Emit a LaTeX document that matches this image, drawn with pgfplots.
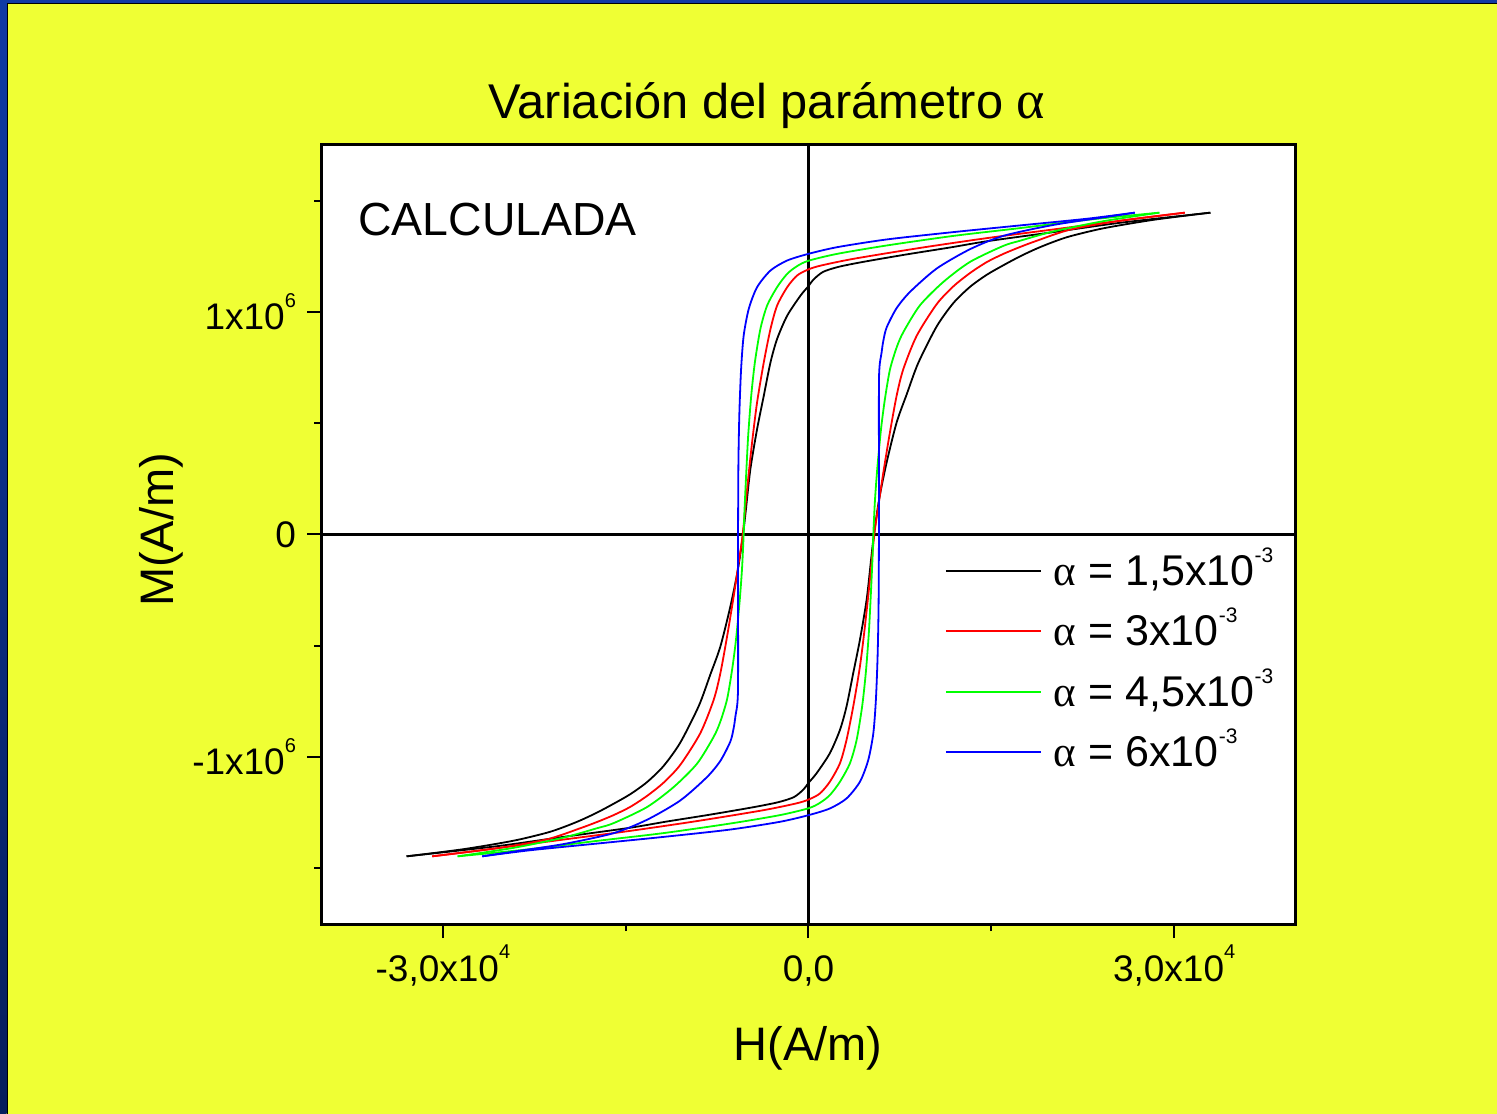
\documentclass[border=0pt]{standalone}
\usepackage{fontspec}
\setmainfont{Liberation Sans}
\newfontfamily\alf{Liberation Serif}
\usepackage{pgfplots}
\pgfplotsset{compat=1.18}
\definecolor{bgyellow}{RGB}{239,255,52}
\definecolor{frametop}{RGB}{16,58,165}
\definecolor{framebot}{RGB}{6,30,92}
\definecolor{cred}{RGB}{255,0,0}
\definecolor{cgreen}{RGB}{0,255,0}
\definecolor{cblue}{RGB}{0,0,255}
% exponents for tick labels and legend entries
\newcommand{\tpow}[1]{\raisebox{0.6em}{\fontsize{10bp}{10bp}\selectfont #1}}
\newcommand{\lpow}[1]{\raisebox{0.54em}{\fontsize{10.5bp}{11bp}\selectfont #1}}

\begin{document}
\begin{tikzpicture}
\useasboundingbox (0,0) rectangle (748.5bp,557bp);
% slide background with its blue frame on the left and top
\fill[bgyellow] (0,0) rectangle (748.5bp,557bp);
\shade[top color=frametop, bottom color=framebot] (0,0) rectangle (3.35bp,557bp);
\fill[frametop] (0,555.65bp) rectangle (748.5bp,557bp);
\fill[black] (3.35bp,0) rectangle (4bp,555.65bp);
\fill[black] (3.35bp,554.9bp) rectangle (748.5bp,555.65bp);

\begin{axis}[
  at={(160.5bp,95bp)}, anchor=south west,
  width=487.5bp, height=389.5bp, scale only axis,
  xmin=-40000, xmax=40000, ymin=-1750000, ymax=1750000,
  axis background/.style={fill=white},
  axis line style={line width=1.5bp},
  tick align=outside, tick pos=left,
  xtick={-30000,0,30000}, minor xtick={-15000,15000},
  ytick={-1000000,0,1000000}, minor ytick={-1500000,-500000,500000,1500000},
  xticklabels={{-3,0x10\tpow{4}},{0,0\vphantom{\tpow{4}}},{3,0x10\tpow{4}}},
  yticklabels={{-1x10\tpow{6}},{0},{1x10\tpow{6}}},
  scaled ticks=false,
  major tick length=7bp, minor tick length=3.5bp,
  tick style={black, line width=1bp},
  tick label style={font=\fontsize{18.5bp}{20bp}\selectfont},
  yticklabel style={xshift=-2bp},
  label style={font=\fontsize{23.5bp}{26bp}\selectfont},
  xlabel={H(A/m)}, ylabel={M(A/m)},
  xlabel style={at={(axis description cs:0.4995,-0.1746)}, anchor=base},
  ylabel style={at={(axis description cs:-0.1508,0.5058)}, anchor=base},
  title={Variación del parámetro {\alf\fontsize{27bp}{27bp}\selectfont α}},
  title style={at={(axis description cs:0.4574,1.0193)}, anchor=base,
               font=\fontsize{24.4bp}{27bp}\selectfont},
  legend style={draw=none, fill=none, at={(axis description cs:0.64,0.4728)},
    anchor=north west, inner sep=0pt, outer sep=0pt,
    font=\fontsize{21.5bp}{23bp}\selectfont, row sep=14.75bp,
    nodes={inner sep=0pt, text height=15bp, text depth=0.4bp},
    /tikz/every odd column/.append style={column sep=6bp}},
  legend cell align=left,
  legend image code/.code={\draw[#1, line width=1bp] (0bp,0bp) -- (47.5bp,0bp);},
  every axis plot/.append style={line width=0.9bp, smooth, tension=0.45},
]
% zero lines
\draw[line width=1.5bp] (axis cs:0,-1750000) -- (axis cs:0,1750000);
\draw[line width=1.5bp] (axis cs:-40000,0) -- (axis cs:40000,0);

% alpha = 1.5e-3 : ascending branch, then descending branch
\addplot[black] coordinates {
(-32980,-1446000) (-25640,-1401000) (-20160,-1359000) (-14690,-1318000)
(-11670,-1290000) (-8000,-1258000) (-4500,-1225000) (-2500,-1203000)
(-1200,-1180000) (-400,-1145000) (0,-1116000) (660,-1073000)
(1750,-983000) (2580,-878000) (3120,-773000) (3670,-623000)
(4220,-473000) (4770,-293000) (5150,-105000) (5370,0)
(5800,160000) (6410,323000) (7230,503000) (8060,630000)
(9000,770000) (10520,935000) (11890,1040000) (13260,1113000)
(14630,1167000) (16000,1210000) (17370,1250000) (18740,1285000)
(20110,1315000) (21470,1340000) (24220,1376000) (28330,1414000)
(32980,1446000)};
\addlegendentry{{\alf α} = 1,5x10\lpow{-3}}
\addplot[black, forget plot] coordinates {
(32980,1446000) (25640,1401000) (20160,1359000) (14690,1318000)
(11670,1290000) (8000,1258000) (4500,1225000) (2500,1203000)
(1200,1180000) (400,1145000) (0,1116000) (-660,1073000)
(-1750,983000) (-2580,878000) (-3120,773000) (-3670,623000)
(-4220,473000) (-4770,293000) (-5150,105000) (-5370,0)
(-5800,-160000) (-6410,-323000) (-7230,-503000) (-8060,-630000)
(-9000,-770000) (-10520,-935000) (-11890,-1040000) (-13260,-1113000)
(-14630,-1167000) (-16000,-1210000) (-17370,-1250000) (-18740,-1285000)
(-20110,-1315000) (-21470,-1340000) (-24220,-1376000) (-28330,-1414000)
(-32980,-1446000)};

% alpha = 3e-3
\addplot[cred] coordinates {
(-30880,-1446000) (-25640,-1410000) (-20160,-1371000) (-14690,-1332000)
(-9200,-1288000) (-3730,-1239000) (-990,-1208000) (0,-1191000)
(930,-1164000) (1750,-1111000) (2580,-1028000) (3120,-923000)
(3670,-773000) (4220,-593000) (4630,-413000) (5040,-203000)
(5400,0) (5730,128000) (6140,278000) (6680,458000)
(7230,623000) (7780,743000) (8880,893000) (10520,1035000)
(11890,1115000) (13260,1175000) (14630,1224000) (16000,1261000)
(17370,1292000) (18740,1320000) (21480,1370000) (25590,1410000)
(30880,1446000)};
\addlegendentry{{\alf α} = 3x10\lpow{-3}}
\addplot[cred, forget plot] coordinates {
(30880,1446000) (25640,1410000) (20160,1371000) (14690,1332000)
(9200,1288000) (3730,1239000) (990,1208000) (0,1191000)
(-930,1164000) (-1750,1111000) (-2580,1028000) (-3120,923000)
(-3670,773000) (-4220,593000) (-4630,413000) (-5040,203000)
(-5400,0) (-5730,-128000) (-6140,-278000) (-6680,-458000)
(-7230,-623000) (-7780,-743000) (-8880,-893000) (-10520,-1035000)
(-11890,-1115000) (-13260,-1175000) (-14630,-1224000) (-16000,-1261000)
(-17370,-1292000) (-18740,-1320000) (-21480,-1370000) (-25590,-1410000)
(-30880,-1446000)};

% alpha = 4.5e-3
\addplot[cgreen] coordinates {
(-28790,-1446000) (-22900,-1414000) (-17420,-1377000) (-11950,-1342000)
(-6470,-1299000) (-2360,-1261000) (0,-1230000) (930,-1206000)
(1750,-1171000) (2580,-1111000) (3400,-1028000) (3950,-923000)
(4400,-773000) (4700,-623000) (4950,-443000) (5120,-263000)
(5260,-98000) (5320,0) (5450,150000) (5650,300000)
(5950,473000) (6270,608000) (6680,740000) (7230,840000)
(7780,909000) (9150,1030000) (11070,1135000) (13260,1225000)
(16000,1297000) (17370,1320000) (20110,1362000) (24220,1408000)
(28790,1446000)};
\addlegendentry{{\alf α} = 4,5x10\lpow{-3}}
\addplot[cgreen, forget plot] coordinates {
(28790,1446000) (22900,1414000) (17420,1377000) (11950,1342000)
(6470,1299000) (2360,1261000) (0,1230000) (-930,1206000)
(-1750,1171000) (-2580,1111000) (-3400,1028000) (-3950,923000)
(-4400,773000) (-4700,623000) (-4950,443000) (-5120,263000)
(-5260,98000) (-5320,0) (-5450,-150000) (-5650,-300000)
(-5950,-473000) (-6270,-608000) (-6680,-740000) (-7230,-840000)
(-7780,-909000) (-9150,-1030000) (-11070,-1135000) (-13260,-1225000)
(-16000,-1297000) (-17370,-1320000) (-20110,-1362000) (-24220,-1408000)
(-28790,-1446000)};

% alpha = 6e-3
\addplot[cblue] coordinates {
(-26780,-1446000) (-22900,-1419000) (-17420,-1389000) (-11950,-1359000)
(-6470,-1326000) (-2360,-1291000) (0,-1261000) (1750,-1231000)
(3120,-1186000) (4220,-1111000) (4900,-1014000) (5320,-893000)
(5530,-743000) (5670,-548000) (5750,-323000) (5780,0)
(5780,293000) (5790,713000) (6000,818000) (6140,870000)
(6410,930000) (7230,1017000) (8330,1090000) (10520,1195000)
(13260,1282000) (16000,1342000) (20110,1391000) (24220,1425000)
(26780,1446000)};
\addlegendentry{{\alf α} = 6x10\lpow{-3}}
\addplot[cblue, forget plot] coordinates {
(26780,1446000) (22900,1419000) (17420,1389000) (11950,1359000)
(6470,1326000) (2360,1291000) (0,1261000) (-1750,1231000)
(-3120,1186000) (-4220,1111000) (-4900,1014000) (-5320,893000)
(-5530,743000) (-5670,548000) (-5750,323000) (-5780,0)
(-5780,-293000) (-5790,-713000) (-6000,-818000) (-6140,-870000)
(-6410,-930000) (-7230,-1017000) (-8330,-1090000) (-10520,-1195000)
(-13260,-1282000) (-16000,-1342000) (-20110,-1391000) (-24220,-1425000)
(-26780,-1446000)};

\node[anchor=base west, inner sep=0pt, font=\fontsize{23.2bp}{26bp}\selectfont]
  at (axis description cs:0.0379,0.8832) {CALCULADA};
\end{axis}
\end{tikzpicture}
\end{document}
